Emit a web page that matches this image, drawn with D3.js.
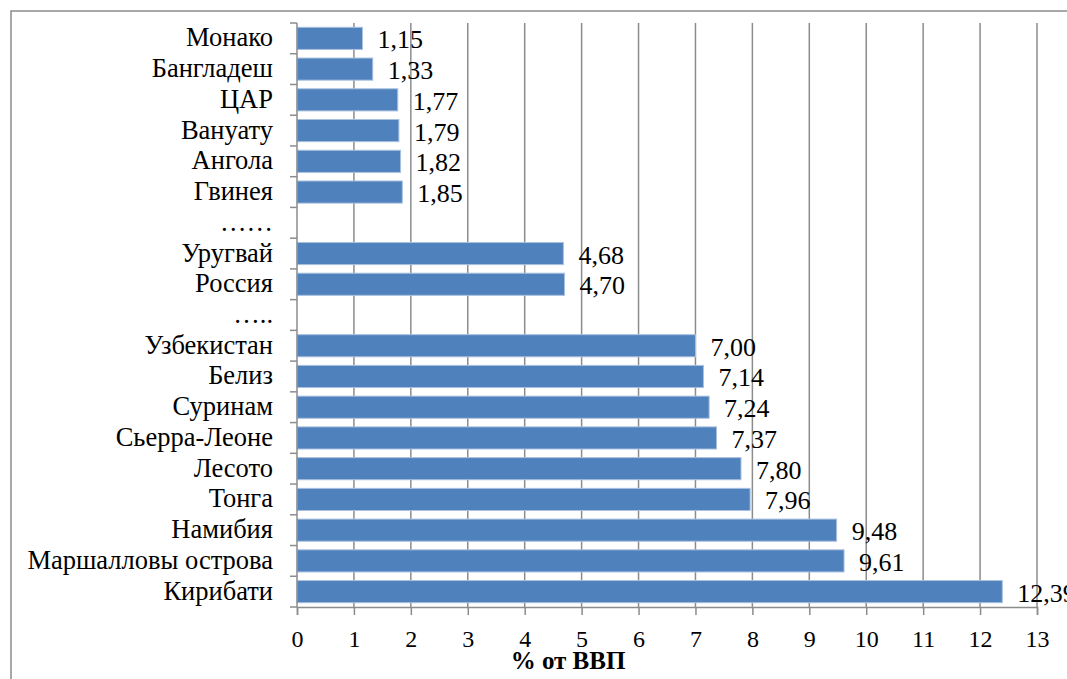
<!DOCTYPE html>
<html><head><meta charset="utf-8">
<script src="https://cdn.jsdelivr.net/npm/d3@7"></script>
<style>body{margin:0;background:#fff}svg{display:block}</style>
</head><body>
<script>
const categories = ["Монако","Бангладеш","ЦАР","Вануату","Ангола","Гвинея","……","Уругвай","Россия","…..","Узбекистан","Белиз","Суринам","Сьерра-Леоне","Лесото","Тонга","Намибия","Маршалловы острова","Кирибати"];
const values = [1.15,1.33,1.77,1.79,1.82,1.85,null,4.68,4.70,null,7.00,7.14,7.24,7.37,7.80,7.96,9.48,9.61,12.39];
const xTicks = [0,1,2,3,4,5,6,7,8,9,10,11,12,13];
const axisTitle = "% от ВВП";

(function(){
const W = 1067, H = 679;
const pL = 297, pR = 1037, pT = 23, pB = 607;
const FF = '"Liberation Serif","Times New Roman",serif';
const svg = d3.select("body").append("svg").attr("width", W).attr("height", H);

// outer frame
svg.append("rect").attr("x", 11).attr("y", 11).attr("width", W + 20).attr("height", H + 20)
  .attr("fill", "none").attr("stroke", "#8c8c8c").attr("stroke-width", 1.5);

const x = d3.scaleLinear().domain([0, 13]).range([pL, pR]);
const y = d3.scaleBand().domain(categories).range([pT, pB]).paddingInner(0.28).paddingOuter(0.14);

// gridlines
svg.append("g").selectAll("line").data(xTicks.slice(1)).join("line")
  .attr("x1", d => x(d)).attr("x2", d => x(d)).attr("y1", pT).attr("y2", pB)
  .attr("stroke", "#8c8c8c").attr("stroke-width", 1.5);

// bars
const data = categories.map((c, i) => ({c, v: values[i]})).filter(d => d.v != null);
svg.append("g").selectAll("rect").data(data).join("rect")
  .attr("x", x(0)).attr("y", d => y(d.c)).attr("width", d => x(d.v) - x(0)).attr("height", y.bandwidth())
  .attr("fill", "#4f81bd").attr("stroke", "#a9c0df").attr("stroke-width", 1);

// x axis
const xa = svg.append("g").attr("transform", `translate(0,${pB})`)
  .call(d3.axisBottom(x).tickValues(xTicks).tickSize(8).tickPadding(15).tickFormat(d3.format("d")));
xa.attr("font-family", null).attr("font-size", null);
xa.select(".domain").attr("stroke", "#8c8c8c").attr("stroke-width", 1.5);
xa.selectAll(".tick line").attr("stroke", "#8c8c8c").attr("stroke-width", 1.5);
xa.selectAll("text").style("font-family", FF).style("font-size", "24px").attr("fill", "#000");

// y axis
const step = y.step();
const ya = svg.append("g").attr("transform", `translate(${pL},0)`);
ya.append("line").attr("x1", 0).attr("x2", 0).attr("y1", pT).attr("y2", pB)
  .attr("stroke", "#8c8c8c").attr("stroke-width", 1.5);
ya.selectAll("line.t").data(d3.range(categories.length + 1)).join("line").attr("class", "t")
  .attr("x1", -7).attr("x2", 0).attr("y1", i => pT + i * step).attr("y2", i => pT + i * step)
  .attr("stroke", "#8c8c8c").attr("stroke-width", 1.5);
ya.selectAll("text").data(categories).join("text")
  .attr("x", -24).attr("y", d => y(d) + y.bandwidth() / 2 + 8)
  .attr("text-anchor", "end").style("font-family", FF).style("font-size", "26.5px").attr("fill", "#000")
  .text(d => d);

// data labels
const fmt = v => v.toFixed(2).replace(".", ",");
svg.append("g").selectAll("text").data(data).join("text")
  .attr("x", d => x(d.v) + 15).attr("y", d => y(d.c) + y.bandwidth() / 2 + 10)
  .style("font-family", FF).style("font-size", "26px").attr("fill", "#000")
  .text(d => fmt(d.v));

// axis title
svg.append("text").attr("x", 568).attr("y", 669).attr("text-anchor", "middle")
  .style("font-family", FF).style("font-size", "25px").style("font-weight", "bold").text(axisTitle);
})();
</script>
</body></html>
